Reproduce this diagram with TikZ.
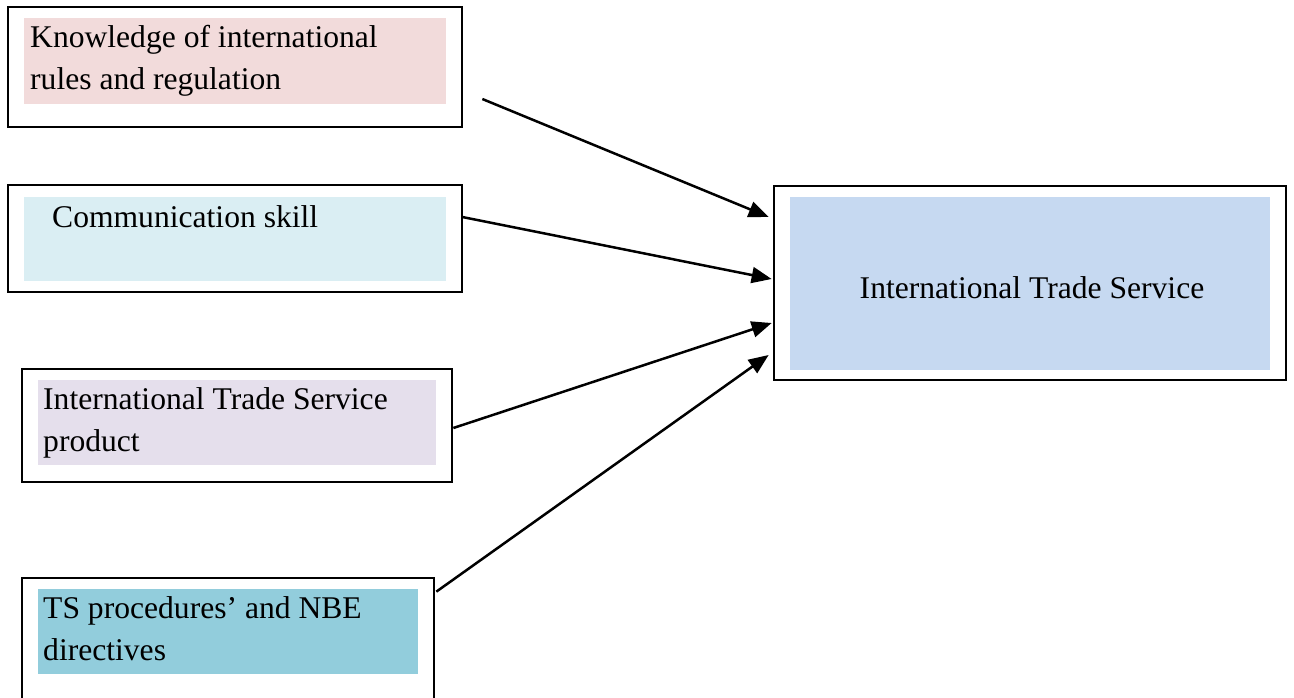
\documentclass[tikz,border=0pt]{standalone}
\usepackage{fontspec}
\setmainfont{Liberation Serif}
\usetikzlibrary{arrows.meta}

\definecolor{rulesfill}{HTML}{F2DBDB}
\definecolor{skillfill}{HTML}{DAEEF3}
\definecolor{productfill}{HTML}{E5DFEC}
\definecolor{procfill}{HTML}{92CDDC}
\definecolor{servicefill}{HTML}{C6D9F1}

\tikzset{
  frame/.style={draw,line width=2.7pt,inner sep=0pt},
  label/.style={inner sep=0pt,align=left,anchor=base west,
    font=\fontsize{31.6}{42}\selectfont},
  link/.style={line width=2.5pt,-{Triangle[length=20pt,width=16pt]}}
}

\begin{document}
\begin{tikzpicture}[x=1pt,y=-1pt]
  \clip (0,0) rectangle (1294,698);
  \fill[white] (0,0) rectangle (1294,698);

  % outer frames
  \node [frame,minimum width=454pt,minimum height=120pt] (rules) at (235,67) {};
  \node [frame,minimum width=454pt,minimum height=107pt] (skill) at (235,238.5) {};
  \node [frame,minimum width=430pt,minimum height=113pt] (product) at (237,425.5) {};
  \node [frame,minimum width=412pt,minimum height=160pt] (proc) at (228,658) {};
  \node [frame,minimum width=512pt,minimum height=194pt] (service) at (1030,283) {};

  % highlighted text
  \fill[rulesfill] (24,18) rectangle (446,104);
  \fill[skillfill] (24,197) rectangle (446,281);
  \fill[productfill] (38,380) rectangle (436,465);
  \fill[procfill] (38,589) rectangle (418,674);
  \fill[servicefill] (790,197) rectangle (1270,370);

  % base is the last line here
  \node [label] (rulestext) at (30,90) {Knowledge of international\\rules and regulation};
  \node [label] (skilltext) at (52,227) {Communication skill};
  \node [label] (producttext) at (43,451) {International Trade Service\\product};
  \node [label] (proctext) at (43,660) {TS procedures’ and NBE\\directives};
  \node [label,anchor=base] (servicetext) at (1032,298) {International Trade Service};

  \draw[link] ([xshift=19pt,yshift=-32pt]rules.east) -- ([xshift=-4pt,yshift=66pt]service.west);
  \draw[link] ([xshift=-1pt,yshift=21.5pt]skill.east) -- ([xshift=-1pt,yshift=4pt]service.west);
  \draw[link] ([yshift=-2.5pt]product.east) -- ([xshift=-1pt,yshift=-40pt]service.west);
  \draw[link] ([xshift=1pt,yshift=-15pt]proc.north east) -- ([xshift=-4pt,yshift=-72pt]service.west);
\end{tikzpicture}
\end{document}
